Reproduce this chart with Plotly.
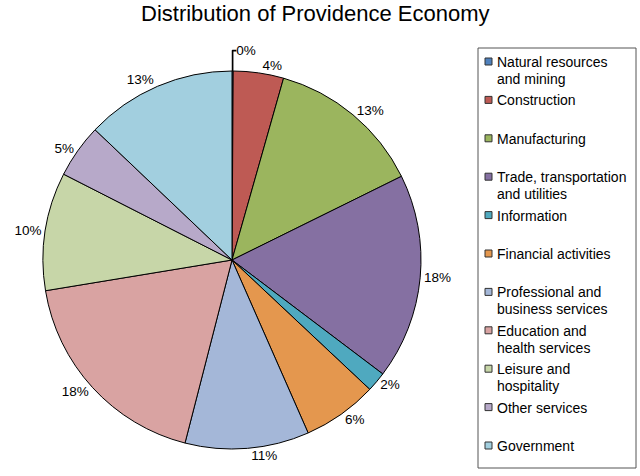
import plotly.graph_objects as go

# sectors and their share of the economy (percent)
sectors = ["Natural resources<br>and mining", "Construction", "Manufacturing",
           "Trade, transportation<br>and utilities", "Information", "Financial activities",
           "Professional and<br>business services", "Education and<br>health services",
           "Leisure and<br>hospitality", "Other services", "Government"]
shares = [0.1, 4.3, 13.3, 17.6, 1.7, 6.4, 10.6, 18.4, 10.1, 4.6, 12.9]
colors = ["#4F81BD", "#BE5A54", "#9BB55E", "#8570A2", "#4FA9BF", "#E4974E",
          "#A4B7D8", "#D9A3A2", "#C7D6A8", "#B7A9C9", "#A2CFDF"]

W, H = 640, 476


def px(x, y):
    # pixel position -> paper coordinates
    return x / W, 1 - y / H


fig = go.Figure(go.Pie(
    labels=sectors, values=shares, sort=False, direction="clockwise", rotation=0,
    marker=dict(colors=colors, line=dict(color="#000000", width=1)),
    texttemplate="%{percent:.0%}", textposition="outside",
    textfont=dict(size=13.5, color="#000000"),
    domain=dict(x=[43/W, 421/W], y=[1-449/H, 1-71/H]),
    hoverinfo="label+percent", showlegend=False,
))

# legend drawn by hand so it can match the boxed, evenly spaced original
shapes = [dict(type="rect", xref="paper", yref="paper",
               x0=478/W, x1=636/W, y0=1-468/H, y1=1-48/H,
               line=dict(color="#555555", width=1))]
annotations = []
for i, (name, col) in enumerate(zip(sectors, colors)):
    yc = 62 + i * 38.4
    x0, y0 = px(485, yc - 4)
    x1, y1 = px(492, yc + 3)
    shapes.append(dict(type="rect", xref="paper", yref="paper",
                       x0=x0, x1=x1, y0=y0, y1=y1, fillcolor=col,
                       line=dict(color="#333333", width=1)))
    for j, line in enumerate(name.split("<br>")):
        ax, ay = px(495, yc + j * 17)
        annotations.append(dict(text=line, xref="paper", yref="paper", x=ax, y=ay,
                                xanchor="left", yanchor="middle", showarrow=False,
                                font=dict(size=14, color="#000000")))

# title placed as a paper annotation so its vertical spot is exact
tx, ty = px(315, 13)
annotations.append(dict(text="Distribution of Providence Economy", xref="paper", yref="paper",
                        x=tx, y=ty, xanchor="center", yanchor="middle", showarrow=False,
                        font=dict(size=22, color="#000000")))

fig.update_layout(
    width=W, height=H,
    margin=dict(l=0, r=0, t=0, b=0),
    paper_bgcolor="white",
    font=dict(family="Liberation Sans, Arial, sans-serif", color="#000000"),
    shapes=shapes, annotations=annotations, showlegend=False,
)

# page body has an 8px default margin; drop it so the figure fills the window
fig.write_html("out.html", config={"displayModeBar": False},
               post_script="document.body.style.margin='0';")
